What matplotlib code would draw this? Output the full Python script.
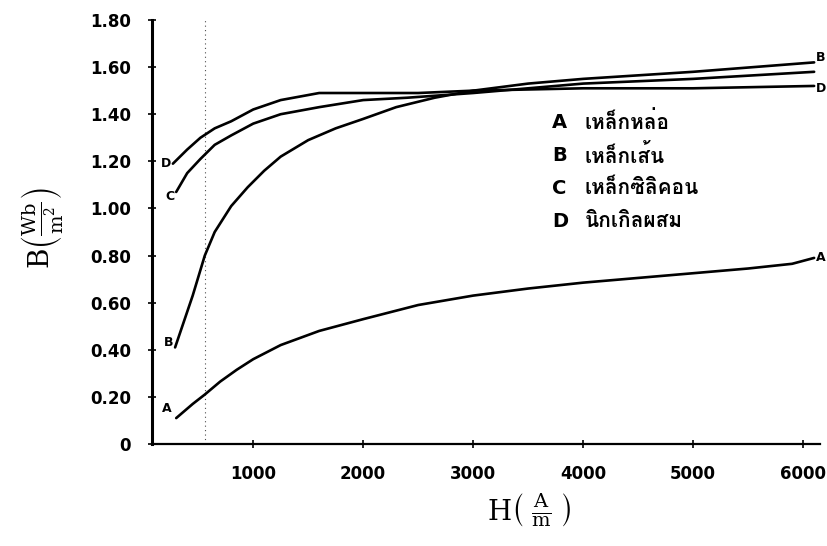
import matplotlib
matplotlib.use('Agg')
import matplotlib.pyplot as plt
from matplotlib import font_manager
from fontTools.ttLib import TTFont

# B-H curves (H in A/m, B in Wb/m^2)
A_H = [300, 450, 560, 700, 850, 1000, 1250, 1600, 2000, 2500, 3000, 3500, 4000, 4500, 5000, 5500, 5900, 6100]
A_B = [0.11, 0.17, 0.21, 0.265, 0.315, 0.36, 0.42, 0.48, 0.53, 0.59, 0.63, 0.66, 0.685, 0.705, 0.725, 0.745, 0.765, 0.79]

B_H = [290, 450, 560, 650, 800, 950, 1100, 1250, 1500, 1750, 2000, 2300, 2650, 3000, 3500, 4000, 5000, 6100]
B_B = [0.41, 0.63, 0.80, 0.90, 1.01, 1.09, 1.16, 1.22, 1.29, 1.34, 1.38, 1.43, 1.47, 1.50, 1.53, 1.55, 1.58, 1.62]

C_H = [300, 400, 520, 650, 800, 1000, 1250, 1600, 2000, 2400, 3000, 4000, 5000, 6100]
C_B = [1.07, 1.15, 1.21, 1.27, 1.31, 1.36, 1.40, 1.43, 1.46, 1.47, 1.49, 1.53, 1.55, 1.58]

D_H = [270, 400, 520, 650, 800, 1000, 1250, 1600, 2000, 2500, 3000, 4000, 5000, 6100]
D_B = [1.19, 1.25, 1.30, 1.34, 1.37, 1.42, 1.46, 1.49, 1.49, 1.49, 1.50, 1.51, 1.51, 1.52]

letters = ['A', 'B', 'C', 'D']
names = ['เหล็กหล่อ', 'เหล็กเส้น', 'เหล็กซิลิคอน', 'นิกเกิลผสม']

x_ticks = [1000, 2000, 3000, 4000, 5000, 6000]
y_ticks = [0, 0.2, 0.4, 0.6, 0.8, 1.0, 1.2, 1.4, 1.6, 1.8]
y_labels = ['0', '0.20', '0.40', '0.60', '0.80', '1.00', '1.20', '1.40', '1.60', '1.80']

# find an installed font that has Thai glyphs
thai_font = 'DejaVu Sans'
for f in font_manager.fontManager.ttflist:
    try:
        if 0x0E2B in TTFont(f.fname, fontNumber=0, lazy=True).getBestCmap():
            thai_font = f.name
            break
    except Exception:
        pass

plt.rcParams['mathtext.fontset'] = 'dejavuserif'

fig = plt.figure(figsize=(8.27, 5.46), dpi=100)
ax = fig.add_axes([0.1838, 0.1868, 0.8077, 0.7766])

for h, b in [(A_H, A_B), (B_H, B_B), (C_H, C_B), (D_H, D_B)]:
    ax.plot(h, b, color='black', lw=1.9, solid_capstyle='round', solid_joinstyle='round')

# faint dotted guide line from the scan
ax.axvline(560, color='black', lw=0.8, ls=(0, (1, 3)), alpha=0.7)

ax.set_xlim(80, 6153)
ax.set_ylim(0, 1.8)
ax.set_xticks(x_ticks)
ax.set_xticklabels([str(v) for v in x_ticks])
ax.set_yticks(y_ticks)
ax.set_yticklabels(y_labels)
for s in ['top', 'right']:
    ax.spines[s].set_visible(False)
ax.spines['left'].set_linewidth(2.2)
ax.spines['bottom'].set_linewidth(1.6)
ax.tick_params(direction='inout', length=6, width=1.2, labelsize=12, pad=12)
for lab in ax.get_xticklabels() + ax.get_yticklabels():
    lab.set_fontweight('bold')

ax.set_xlabel(r'$\mathrm{H}\left(\;\frac{\mathrm{A}}{\mathrm{m}}\;\right)$', fontsize=20)
ax.xaxis.set_label_coords(0.565, -0.112)
ax.set_ylabel(r'$\mathrm{B}\left(\frac{\mathrm{Wb}}{\mathrm{m}^2}\right)$', fontsize=20)
ax.yaxis.set_label_coords(-0.13, 0.51)

# curve labels at the ends
ax.text(A_H[0] - 40, A_B[0] + 0.04, 'A', fontsize=9, fontweight='bold', ha='right', va='center')
ax.text(B_H[0] - 20, B_B[0] + 0.02, 'B', fontsize=9, fontweight='bold', ha='right', va='center')
ax.text(C_H[0] - 20, C_B[0] - 0.02, 'C', fontsize=9, fontweight='bold', ha='right', va='center')
ax.text(D_H[0] - 20, D_B[0], 'D', fontsize=9, fontweight='bold', ha='right', va='center')
ax.text(B_H[-1] + 20, B_B[-1] + 0.02, 'B', fontsize=9, fontweight='bold', ha='left', va='center', clip_on=False)
ax.text(D_H[-1] + 20, D_B[-1] - 0.01, 'D', fontsize=9, fontweight='bold', ha='left', va='center', clip_on=False)
ax.text(A_H[-1] + 20, A_B[-1], 'A', fontsize=9, fontweight='bold', ha='left', va='center', clip_on=False)

# legend block
for i, (l, n) in enumerate(zip(letters, names)):
    y = 1.365 - i * 0.14
    ax.text(3720, y, l, fontsize=14, fontweight='bold', va='center')
    ax.text(4010, y, n, fontsize=15, fontweight='bold', va='center', family=[thai_font, 'DejaVu Sans'])

fig.savefig('out.png', dpi=100)
